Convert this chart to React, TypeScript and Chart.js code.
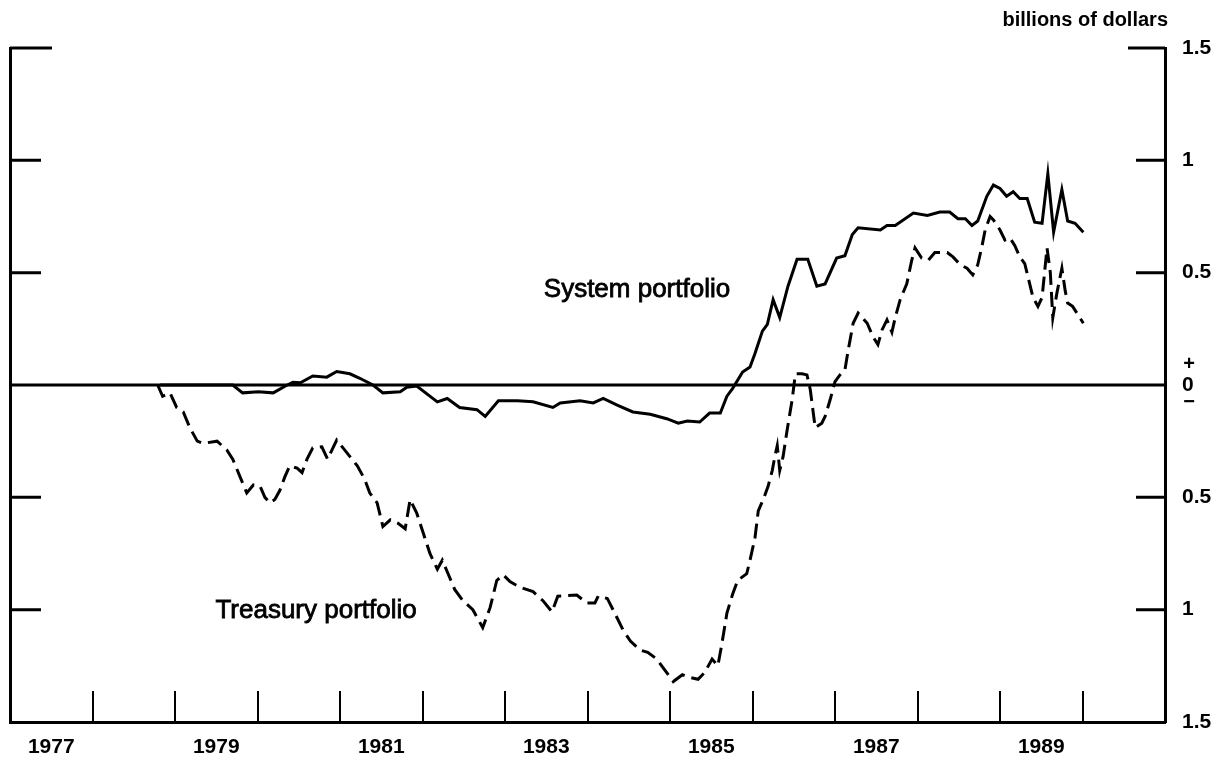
import React, { useEffect, useRef } from "react";
import { Chart, registerables } from "chart.js";

Chart.register(...registerables);

// ---- Data ----
const systemDates = [
  1978.82, 1979.3, 1979.7, 1979.82, 1980.01, 1980.19, 1980.36, 1980.43, 1980.52, 1980.67,
  1980.84, 1980.96, 1981.12, 1981.24, 1981.4, 1981.52, 1981.73, 1981.81, 1981.93, 1982.18,
  1982.3, 1982.45, 1982.66, 1982.76, 1982.92, 1983.15, 1983.34, 1983.58, 1983.67, 1983.91,
  1984.07, 1984.19, 1984.36, 1984.55, 1984.76, 1984.96, 1985.1, 1985.21, 1985.36, 1985.48,
  1985.61, 1985.69, 1985.76, 1985.88, 1985.97, 1986.03, 1986.12, 1986.18, 1986.25, 1986.33,
  1986.43, 1986.54, 1986.67, 1986.78, 1986.88, 1987.02, 1987.12, 1987.21, 1987.28, 1987.55,
  1987.63, 1987.73, 1987.95, 1988.12, 1988.27, 1988.39, 1988.49, 1988.58, 1988.66, 1988.73,
  1988.84, 1988.92, 1989.0, 1989.08, 1989.16, 1989.24, 1989.33, 1989.42, 1989.51, 1989.58,
  1989.65, 1989.75, 1989.82, 1989.91, 1990.01,
];
const systemValues = [
  0.0, 0.0, 0.0, -0.035, -0.03, -0.035, 0.0, 0.012, 0.01, 0.04,
  0.035, 0.06, 0.05, 0.03, 0.0, -0.035, -0.03, -0.01, -0.005, -0.075,
  -0.06, -0.1, -0.11, -0.14, -0.07, -0.07, -0.075, -0.1, -0.08, -0.07,
  -0.08, -0.06, -0.09, -0.12, -0.13, -0.15, -0.17, -0.16, -0.165, -0.125,
  -0.125, -0.05, -0.015, 0.058, 0.08, 0.14, 0.24, 0.27, 0.38, 0.3,
  0.44, 0.56, 0.56, 0.44, 0.45, 0.565, 0.575, 0.67, 0.7, 0.69,
  0.71, 0.71, 0.765, 0.755, 0.77, 0.77, 0.74, 0.74, 0.71, 0.73,
  0.84, 0.89, 0.875, 0.84, 0.86, 0.83, 0.83, 0.725, 0.72, 0.94,
  0.68, 0.87, 0.73, 0.72, 0.68,
];

const treasuryDates = [
  1978.79, 1978.85, 1978.94, 1979.02, 1979.1, 1979.18, 1979.27, 1979.34, 1979.51, 1979.63,
  1979.7, 1979.79, 1979.87, 1979.95, 1980.03, 1980.09, 1980.15, 1980.21, 1980.27, 1980.33,
  1980.39, 1980.48, 1980.54, 1980.6, 1980.67, 1980.78, 1980.85, 1980.96, 1981.08, 1981.21,
  1981.3, 1981.36, 1981.45, 1981.52, 1981.61, 1981.7, 1981.79, 1981.85, 1981.93, 1982.01,
  1982.09, 1982.18, 1982.24, 1982.31, 1982.39, 1982.49, 1982.61, 1982.73, 1982.82, 1982.9,
  1982.98, 1983.06, 1983.18, 1983.34, 1983.46, 1983.57, 1983.64, 1983.87, 1983.99, 1984.09,
  1984.13, 1984.24, 1984.33, 1984.43, 1984.52, 1984.64, 1984.73, 1984.84, 1984.94, 1985.04,
  1985.15, 1985.22, 1985.34, 1985.42, 1985.51, 1985.58, 1985.63, 1985.69, 1985.76, 1985.82,
  1985.93, 1985.97, 1986.03, 1986.07, 1986.13, 1986.19, 1986.24, 1986.27, 1986.3, 1986.33,
  1986.37, 1986.42, 1986.48, 1986.52, 1986.6, 1986.66, 1986.7, 1986.76, 1986.84, 1986.88,
  1986.94, 1987.0, 1987.06, 1987.12, 1987.16, 1987.22, 1987.28, 1987.39, 1987.46, 1987.52,
  1987.57, 1987.63, 1987.69, 1987.73, 1987.79, 1987.87, 1987.93, 1987.97, 1988.05, 1988.13,
  1988.21, 1988.36, 1988.43, 1988.52, 1988.6, 1988.67, 1988.73, 1988.78, 1988.82, 1988.88,
  1988.92, 1989.0, 1989.06, 1989.12, 1989.18, 1989.24, 1989.3, 1989.36, 1989.4, 1989.46,
  1989.51, 1989.57, 1989.61, 1989.64, 1989.69, 1989.75, 1989.79, 1989.82, 1989.88, 1990.01,
];
const treasuryValues = [
  0.0, -0.05, -0.035, -0.1, -0.12, -0.19, -0.25, -0.26, -0.25, -0.29,
  -0.33, -0.41, -0.48, -0.445, -0.45, -0.5, -0.525, -0.51, -0.47, -0.41,
  -0.36, -0.37, -0.39, -0.33, -0.28, -0.275, -0.33, -0.245, -0.3, -0.36,
  -0.42, -0.48, -0.525, -0.63, -0.6, -0.615, -0.64, -0.51, -0.57, -0.66,
  -0.75, -0.82, -0.78, -0.84, -0.91, -0.96, -1.0, -1.08, -0.99, -0.87,
  -0.845, -0.875, -0.9, -0.92, -0.96, -1.01, -0.94, -0.935, -0.97, -0.97,
  -0.94, -0.95, -1.015, -1.09, -1.14, -1.18, -1.19, -1.22, -1.27, -1.32,
  -1.29, -1.3, -1.31, -1.28, -1.22, -1.25, -1.15, -1.015, -0.93, -0.87,
  -0.84, -0.78, -0.68, -0.56, -0.51, -0.45, -0.38, -0.32, -0.27, -0.38,
  -0.32, -0.2, -0.067, 0.05, 0.05, 0.045, -0.02, -0.19, -0.17, -0.14,
  -0.067, 0.015, 0.045, 0.067, 0.155, 0.275, 0.32, 0.275, 0.215, 0.18,
  0.245, 0.29, 0.235, 0.3, 0.38, 0.45, 0.555, 0.61, 0.565, 0.555,
  0.59, 0.59, 0.57, 0.535, 0.52, 0.49, 0.535, 0.615, 0.69, 0.75,
  0.735, 0.69, 0.645, 0.655, 0.62, 0.57, 0.54, 0.45, 0.39, 0.35,
  0.39, 0.61, 0.5, 0.3, 0.41, 0.52, 0.42, 0.365, 0.35, 0.275,
];

const yearLabels = [1977, 1979, 1981, 1983, 1985, 1987, 1989];
const yearTickMarks = [1978, 1979, 1980, 1981, 1982, 1983, 1984, 1985, 1986, 1987, 1988, 1989, 1990];
const yTickValues = [-1.5, -1, -0.5, 0, 0.5, 1, 1.5];
const unitLabel = "billions of dollars";
const systemLabel = "System portfolio";
const treasuryLabel = "Treasury portfolio";

const FONT = "'Liberation Sans', Arial, Helvetica, sans-serif";
const INK = "#000000";

const decorPlugin = {
  id: "decor",
  afterDraw(chart: any) {
    const { ctx, chartArea: area } = chart;
    const xs = chart.scales.x;
    const ys = chart.scales.y;
    ctx.save();
    ctx.strokeStyle = INK;
    ctx.fillStyle = INK;
    ctx.lineCap = "butt";

    // zero line
    const y0 = ys.getPixelForValue(0);
    ctx.lineWidth = 3;
    ctx.beginPath();
    ctx.moveTo(area.left, y0);
    ctx.lineTo(area.right, y0);
    ctx.stroke();

    // x tick marks (inward)
    ctx.lineWidth = 2;
    yearTickMarks.forEach((yr) => {
      const px = Math.round(xs.getPixelForValue(yr));
      ctx.beginPath();
      ctx.moveTo(px, area.bottom);
      ctx.lineTo(px, area.bottom - 31);
      ctx.stroke();
    });

    // y tick marks (inward on both sides)
    ctx.lineWidth = 3;
    yTickValues.forEach((v) => {
      if (v === 0 || v === -1.5) return;
      const py = ys.getPixelForValue(v);
      const lenL = v === 1.5 ? 42 : 31;
      const lenR = v === 1.5 ? 37 : 29;
      ctx.beginPath();
      ctx.moveTo(area.left, py);
      ctx.lineTo(area.left + lenL, py);
      ctx.moveTo(area.right, py);
      ctx.lineTo(area.right - lenR, py);
      ctx.stroke();
    });

    // + / − markers around zero label
    ctx.font = `bold 20px ${FONT}`;
    ctx.textAlign = "center";
    ctx.textBaseline = "middle";
    ctx.fillText("+", area.right + 24, y0 - 21);
    ctx.fillText("\u2212", area.right + 24, y0 + 17);

    // unit label
    ctx.font = `bold 20px ${FONT}`;
    ctx.textAlign = "right";
    ctx.textBaseline = "alphabetic";
    ctx.fillText(unitLabel, area.right + 3, 26);

    // series labels
    ctx.font = `26px ${FONT}`;
    ctx.textAlign = "center";
    ctx.lineWidth = 0.8;
    const sx = xs.getPixelForValue(1984.6);
    const sy = ys.getPixelForValue(0.392);
    const tx = xs.getPixelForValue(1980.71);
    const ty = ys.getPixelForValue(-1.037);
    ctx.fillText(systemLabel, sx, sy);
    ctx.strokeText(systemLabel, sx, sy);
    ctx.fillText(treasuryLabel, tx, ty);
    ctx.strokeText(treasuryLabel, tx, ty);

    ctx.restore();
  },
};

export default function App() {
  const canvasRef = useRef<HTMLCanvasElement | null>(null);

  useEffect(() => {
    if (!canvasRef.current) return;
    const systemData = systemDates.map((d, i) => ({ x: d, y: systemValues[i] }));
    const treasuryData = treasuryDates.map((d, i) => ({ x: d, y: treasuryValues[i] }));

    const chart = new Chart(canvasRef.current, {
      type: "line",
      data: {
        datasets: [
          {
            label: systemLabel,
            data: systemData,
            borderColor: INK,
            borderWidth: 3,
            pointRadius: 0,
            tension: 0,
            fill: false,
          },
          {
            label: treasuryLabel,
            data: treasuryData,
            borderColor: INK,
            borderWidth: 3,
            borderDash: [15, 7],
            pointRadius: 0,
            tension: 0,
            fill: false,
          },
        ],
      },
      options: {
        animation: false,
        responsive: true,
        maintainAspectRatio: false,
        layout: { padding: { left: 10, top: 48, right: 0, bottom: 0 } },
        plugins: {
          legend: { display: false },
          tooltip: { enabled: false },
          title: { display: false },
        },
        scales: {
          x: {
            type: "linear",
            min: 1977,
            max: 1991,
            afterBuildTicks: (scale: any) => {
              scale.ticks = yearLabels.map((y) => ({ value: y + 0.5 }));
            },
            afterFit: (scale: any) => {
              scale.height = 39;
            },
            ticks: {
              autoSkip: false,
              maxRotation: 0,
              padding: 13,
              color: INK,
              font: { family: FONT, size: 21, weight: "bold" },
              callback: (v: any) => String(Math.floor(Number(v))),
            },
            grid: { display: false, drawTicks: false },
            border: { display: true, color: INK, width: 3 },
          },
          y: {
            type: "linear",
            position: "right",
            min: -1.5,
            max: 1.5,
            afterBuildTicks: (scale: any) => {
              scale.ticks = yTickValues.map((v) => ({ value: v }));
            },
            afterFit: (scale: any) => {
              scale.width = 62;
            },
            ticks: {
              autoSkip: false,
              padding: 17,
              color: INK,
              font: { family: FONT, size: 21, weight: "bold" },
              callback: (v: any) => String(Math.abs(Number(v))),
            },
            grid: { display: false, drawTicks: false },
            border: { display: true, color: INK, width: 3 },
          },
          yl: {
            type: "linear",
            position: "left",
            min: -1.5,
            max: 1.5,
            afterFit: (scale: any) => {
              scale.width = 0;
            },
            ticks: { display: false },
            grid: { display: false, drawTicks: false },
            border: { display: true, color: INK, width: 3 },
          },
        },
      },
      plugins: [decorPlugin],
    });

    return () => chart.destroy();
  }, []);

  return (
    <div
      style={{
        position: "absolute",
        left: 0,
        top: 0,
        width: 1227,
        height: 761,
        background: "#ffffff",
      }}
    >
      <canvas ref={canvasRef} />
    </div>
  );
}
